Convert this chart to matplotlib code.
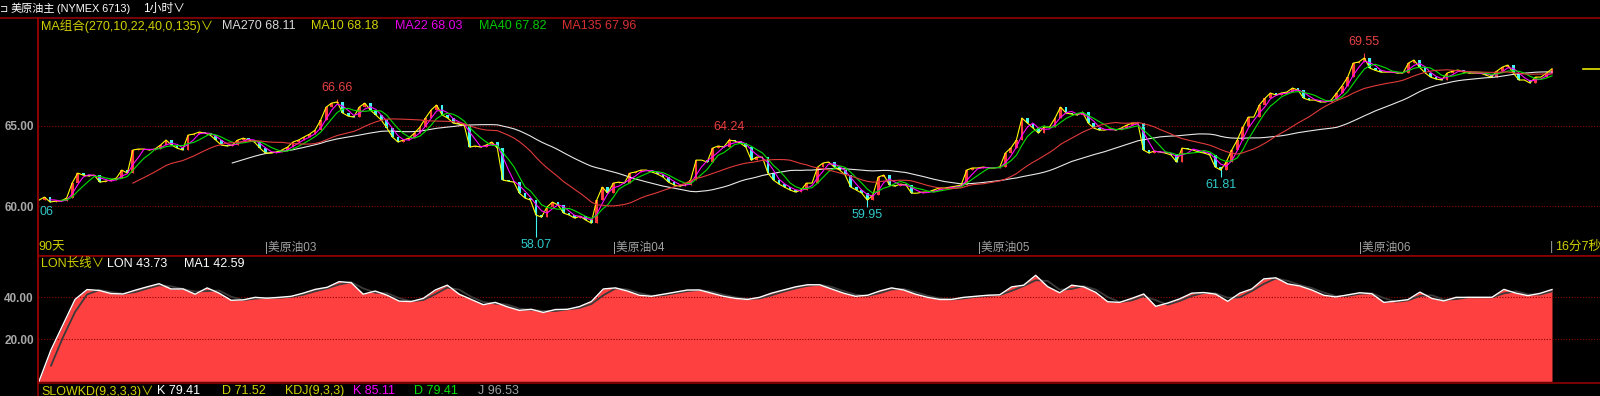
import numpy as np
import pandas as pd
import matplotlib
matplotlib.use('Agg')
import matplotlib.pyplot as plt
from matplotlib.lines import Line2D

plt.rcParams['font.family'] = ['Liberation Sans', 'Noto Sans CJK SC', 'DejaVu Sans']

# closes, one sample every ~7 hourly bars
close = [
    60.37, 60.56, 60.25, 60.31, 60.31, 60.50, 61.43, 62.05, 61.93, 61.87,
    61.93, 61.49, 61.55, 61.62, 61.74, 62.24, 62.05, 63.49, 63.55, 63.55,
    63.49, 63.55, 63.80, 64.11, 63.80, 63.61, 63.49, 64.42, 64.48, 64.61,
    64.55, 64.42, 64.11, 63.80, 63.74, 63.80, 64.11, 64.23, 64.11, 63.99,
    63.61, 63.30, 63.30, 63.36, 63.49, 63.67, 63.99, 64.11, 64.30, 64.48,
    64.73, 65.35, 66.16, 66.41, 66.48, 65.79, 65.60, 65.54, 66.16, 66.41,
    65.98, 65.67, 65.35, 64.86, 64.30, 63.99, 64.11, 64.23, 64.55, 64.92,
    65.48, 65.98, 66.29, 65.67, 65.48, 65.17, 65.10, 65.04, 63.67, 63.74,
    63.67, 63.80, 63.99, 63.61, 61.62, 61.55, 61.49, 60.80, 60.50, 60.37,
    59.44, 59.31, 59.94, 60.25, 60.06, 59.56, 59.44, 59.25, 59.37, 59.13,
    58.94, 60.37, 61.18, 60.80, 61.43, 61.49, 61.43, 62.05, 62.12, 62.24,
    62.24, 62.12, 61.99, 61.81, 61.49, 61.31, 61.24, 61.31, 61.62, 62.86,
    62.86, 62.74, 63.61, 63.74, 63.67, 64.11, 64.05, 63.92, 63.67, 62.86,
    63.05, 63.05, 62.05, 61.62, 61.37, 61.18, 61.00, 60.87, 61.00, 61.43,
    61.43, 62.43, 62.68, 62.74, 62.43, 62.24, 61.93, 61.18, 61.00, 60.80,
    60.37, 60.68, 61.81, 61.93, 61.31, 61.24, 61.37, 61.31, 60.80, 60.80,
    60.87, 60.87, 61.00, 61.12, 61.12, 61.18, 61.24, 61.31, 62.24, 62.37,
    62.37, 62.43, 62.37, 62.37, 62.43, 63.30, 63.61, 64.11, 65.48, 65.17,
    64.86, 64.55, 64.92, 64.92, 65.48, 66.16, 65.79, 65.73, 65.67, 65.85,
    65.17, 64.86, 64.73, 64.73, 64.80, 64.73, 64.86, 65.04, 65.17, 65.17,
    63.49, 63.30, 63.43, 63.36, 63.30, 63.18, 62.74, 63.61, 63.55, 63.49,
    63.36, 63.30, 63.18, 62.43, 62.24, 62.74, 63.49, 64.11, 64.90, 65.54,
    65.54, 66.29, 66.70, 67.04, 66.91, 67.04, 67.10, 67.35, 67.22, 66.72,
    66.60, 66.60, 66.48, 66.48, 66.60, 67.04, 67.50, 68.03, 68.90, 68.97,
    69.22, 68.59, 68.45, 68.34, 68.34, 68.34, 68.28, 68.28, 68.90, 69.09,
    68.65, 68.30, 68.03, 67.91, 67.85, 68.28, 68.40, 68.47, 68.34, 68.28,
    68.28, 68.28, 68.16, 68.03, 68.40, 68.65, 68.78, 68.28, 67.85, 67.85,
    67.66, 68.03, 68.03, 68.28, 68.55,
]
bars_per_sample = 7.4

# labelled extremes
ext_idx = [54, 90, 125, 150, 214, 240]
ext_val = [66.66, 58.07, 64.24, 59.95, 61.81, 69.55]
ext_high = [True, False, True, False, False, True]

ma_periods = [270, 10, 22, 40, 135]
ma_colors = ['#E8E8E8', '#FFFF00', '#FF00FF', '#00E000', '#E03A3A']
ma_text_colors = ['#D8D8D8', '#D0D000', '#E800E8', '#00C800', '#D83030']
ma_last = ['68.11', '68.18', '68.03', '67.82', '67.96']

lon = [
    0, 15, 27, 39, 43.7, 43.3, 41.8, 41.6, 43.4, 45, 46.5, 44, 44, 41.5, 44.5,
    42, 38.6, 38.8, 40, 39.6, 40, 40.5, 42, 43.8, 44.8, 47.5, 47, 41.5, 43, 41,
    38.2, 38, 39.5, 43.5, 45.8, 41.5, 39, 36.5, 37.6, 35.5, 33.8, 34.3, 32.8,
    34.2, 34.3, 35.6, 38, 44, 44.5, 43, 41, 40.5, 41.5, 42.5, 43.5, 43.5, 42,
    40.5, 39.5, 39, 40, 42, 43.5, 45, 46, 46, 44, 42, 40.5, 41, 43, 44.5, 43.5,
    41.5, 40, 39, 39, 40, 40.5, 41, 41.2, 45, 45.8, 50.5, 45.1, 42.2, 45.8, 45,
    42.4, 37.9, 37.6, 39.5, 41.6, 35.7, 37.3, 39.3, 42, 42.3, 41.5, 38.1, 42,
    44, 48.8, 49.3, 46.4, 45.4, 43.5, 41, 40.2, 41.2, 42.2, 41.7, 37.6, 38.2,
    38.9, 42.5, 39.5, 38.3, 40, 40, 40, 40, 43.8, 42, 40.8, 41.9, 43.73,
]
lon_ma_window = 2

month_labels = ['美原油03', '美原油04', '美原油05', '美原油06']
month_bar = [41, 104, 170, 239]

W, H = 1600, 396
RED_LINE = '#900000'
GRID = '#8B0000'
UP = '#FF3C3C'
DOWN = '#40F4F4'


def fx(px):
    return px / W


def fy(py):
    return 1 - py / H


fig = plt.figure(figsize=(16, 3.96), dpi=100, facecolor='black')

n = len(close)
c = np.array(close)
o = np.r_[c[0], c[:-1]]
hi = np.maximum(o, c)
lo = np.minimum(o, c)
for i, v, up in zip(ext_idx, ext_val, ext_high):
    if up:
        hi[i] = v
    else:
        lo[i] = v
x = np.arange(n)

step_px = (1552 - 39) / (n - 1)
xlim = (-(39 - 38) / step_px, n - 1 + (1600 - 1552) / step_px)

# ---- main price panel
ax = fig.add_axes([fx(38), fy(256), fx(1600 - 38), (256 - 18) / H])
ax.set_facecolor('black')
ax.set_xlim(xlim)
ax.set_ylim(56.89, 71.71)
for g in [60, 65]:
    ax.axhline(g, color=GRID, ls=(0, (1, 1.5)), lw=0.8)

upm = c >= o
cols = np.where(upm, UP, DOWN)
ax.vlines(x, lo, hi, colors=cols, lw=0.8)
ax.bar(x, np.maximum(np.abs(c - o), 0.03), bottom=np.minimum(o, c), width=0.5,
       color=cols, lw=0)

s = pd.Series(c)
for p, col in zip(ma_periods, ma_colors):
    w = max(1, round(p / bars_per_sample))
    ax.plot(x, s.rolling(w).mean(), color=col, lw=0.8)

for i, v, up in zip(ext_idx, ext_val, ext_high):
    ax.annotate(f'{v:.2f}', (i, v), xytext=(0, 11 if up else -8),
                textcoords='offset pixels', ha='center', va='center',
                color='#E84040' if up else '#30C8C8', fontsize=9)

# current price marker
ax.plot([xlim[1] - 17 / step_px, xlim[1]], [c[-1], c[-1]], color='#E8E800', lw=1.2)

ax.set_xticks([])
ax.set_yticks([60, 65])
ax.set_yticklabels(['60.00', '65.00'], fontweight='bold')
ax.tick_params(axis='y', length=0, colors='#A8A8A8', labelsize=8.5, pad=3)
for sp in ['top', 'right']:
    ax.spines[sp].set_visible(False)
for sp in ['left', 'bottom']:
    ax.spines[sp].set_color(RED_LINE)
    ax.spines[sp].set_linewidth(1.2)

for b, lab in zip(month_bar, month_labels):
    ax.text(b, (256 - 247) / 238, '|' + lab, transform=ax.get_xaxis_transform(),
            color='#A0A0A0', fontsize=8.5, va='center', ha='left')

# ---- LON panel
ax2 = fig.add_axes([fx(38), fy(383), fx(1600 - 38), (383 - 256) / H])
ax2.set_facecolor('black')
ax2.set_xlim(xlim)
ax2.set_ylim(-0.8, 59.7)
for g in [20, 40]:
    ax2.axhline(g, color=GRID, ls=(0, (1, 1.5)), lw=0.8)
lx = np.linspace(0, n - 1, len(lon))
ax2.fill_between(lx, 0, lon, color='#FF4040', lw=0)
ax2.plot(lx, pd.Series(lon).rolling(lon_ma_window).mean(), color='#3A3A3A', lw=1.3)
ax2.plot(lx, lon, color='white', lw=1.0)
ax2.set_xticks([])
ax2.set_yticks([20, 40])
ax2.set_yticklabels(['20.00', '40.00'], fontweight='bold')
ax2.tick_params(axis='y', length=0, colors='#A8A8A8', labelsize=8.5, pad=3)
ax2.spines['right'].set_visible(False)
for sp in ['left', 'bottom', 'top']:
    ax2.spines[sp].set_color(RED_LINE)
    ax2.spines[sp].set_linewidth(1.2)

# ---- frame lines
fig.add_artist(Line2D([0, 1], [fy(17.5), fy(17.5)], color=RED_LINE, lw=1.2))
fig.add_artist(Line2D([fx(37.5), fx(37.5)], [0, fy(17.5)], color=RED_LINE, lw=1.2))

# ---- texts
fig.text(fx(0), fy(8.5), '⊐', color='white', fontsize=7, va='center',
         family=['DejaVu Sans'])
fig.text(fx(11), fy(8.5), '美原油主', color='white', fontsize=8, va='center')
fig.text(fx(57), fy(8.5), '(NYMEX 6713)', color='white', fontsize=7.8, va='center')
fig.text(fx(143), fy(8.5), '1小时∨', color='white', fontsize=8.5, va='center')

fig.text(fx(41), fy(26), 'MA组合(270,10,22,40,0,135)∨', color='#D0D000', fontsize=9,
         va='center')
for xp, p, col, val in zip([222, 311, 395, 479, 562], ma_periods, ma_text_colors, ma_last):
    fig.text(fx(xp), fy(26), f'MA{p} {val}', color=col, fontsize=9, va='center')

fig.text(fx(39), fy(212), '06', color='#30C8C8', fontsize=9, va='center')
fig.text(fx(38), fy(247), '90天', color='#D0D000', fontsize=9, va='center')
fig.text(fx(1550), fy(247), '|', color='#A0A0A0', fontsize=9, va='center')
fig.text(fx(1555), fy(247), '16分7秒', color='#D0D000', fontsize=9, va='center')

fig.text(fx(41), fy(264), 'LON长线∨', color='#D0D000', fontsize=9, va='center')
fig.text(fx(107), fy(264), 'LON 43.73', color='white', fontsize=9, va='center')
fig.text(fx(184), fy(264), 'MA1 42.59', color='white', fontsize=9, va='center')

kd = [('SLOWKD(9,3,3,3)∨', 41, '#D0D000'), ('K 79.41', 157, 'white'),
      ('D 71.52', 222, '#D0D000'), ('KDJ(9,3,3)', 285, '#D0D000'),
      ('K 85.11', 353, '#FF00FF'), ('D 79.41', 414, '#00E000'),
      ('J 96.53', 478, '#A0A0A0')]
for t, xp, col in kd:
    fig.text(fx(xp), fy(385), t, color=col, fontsize=9, va='top')

fig.savefig('out.png', dpi=100, facecolor='black')
